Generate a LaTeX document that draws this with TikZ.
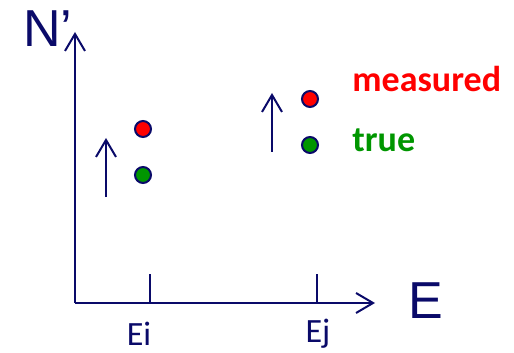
\documentclass[tikz,border=0pt]{standalone}
\usepackage{fontspec}
\setmainfont{Carlito}
\newfontfamily\axisfont{Liberation Sans}
\usepackage{xcolor}
\usetikzlibrary{arrows.meta,positioning}
\definecolor{Navy}{RGB}{10,10,105}
\definecolor{MeasRed}{RGB}{255,0,0}
\definecolor{TrueGreen}{RGB}{0,150,0}
\tikzset{
  axisline/.style={-{Straight Barb[length=8.5pt,width=10pt]},line width=1pt,Navy},
  uparrow/.style={-{Straight Barb[length=8.5pt,width=10pt]},line width=1pt,Navy},
  tickline/.style={line width=1pt,Navy},
  dot/.style={circle,draw=Navy,line width=1pt,minimum size=8pt,inner sep=0pt},
  meas/.style={dot,fill=MeasRed},
  tru/.style={dot,fill=TrueGreen},
  axlabel/.style={font=\axisfont\fontsize{26}{30}\selectfont,text=Navy,inner sep=0pt},
  ticklabel/.style={font=\fontsize{17}{20}\selectfont,text=Navy,inner sep=0pt},
}
\begin{document}
\begin{tikzpicture}[x=0.5pt,y=-0.5pt]
  \useasboundingbox (0,0) rectangle (514,353);
  % axes
  \coordinate (o) at (75,303);
  \coordinate (ytop) at (75,32);
  \coordinate (xend) at (375,303);
  \draw[axisline] (o) -- (ytop);
  \draw[axisline] (o) -- (xend);
  \node[axlabel] (nlab) at (48,29) {N’};
  \node[axlabel] (elab) at (426,301) {E};
  % ticks
  \coordinate (ti) at (150,274);  \coordinate (ti0) at (150,303);
  \coordinate (tj) at (317,274);  \coordinate (tj0) at (317,303);
  \draw[tickline] (ti) -- (ti0);
  \draw[tickline] (tj) -- (tj0);
  \node[ticklabel] (ei) at (139,334) {Ei};
  \node[ticklabel] (ej) at (318,334) {Ej};
  % points
  \node[meas] (mi) at (143,129) {};
  \node[tru]  (ti1) at (143,175) {};
  \node[meas] (mj) at (310,99) {};
  \node[tru]  (tj1) at (310,145) {};
  % shifts
  \coordinate (si0) at (106,197); \coordinate (si1) at (106,138);
  \coordinate (sj0) at (272,152); \coordinate (sj1) at (272,93);
  \draw[uparrow] (si0) -- (si1);
  \draw[uparrow] (sj0) -- (sj1);
  % legend
  \node[font=\bfseries\fontsize{18}{22}\selectfont,text=MeasRed,inner sep=0pt,anchor=west] (lm) at (352,79) {measured};
  \node[font=\bfseries\fontsize{18}{22}\selectfont,text=TrueGreen,inner sep=0pt,anchor=west] (lt) at (352,140) {true};
\end{tikzpicture}
\end{document}
